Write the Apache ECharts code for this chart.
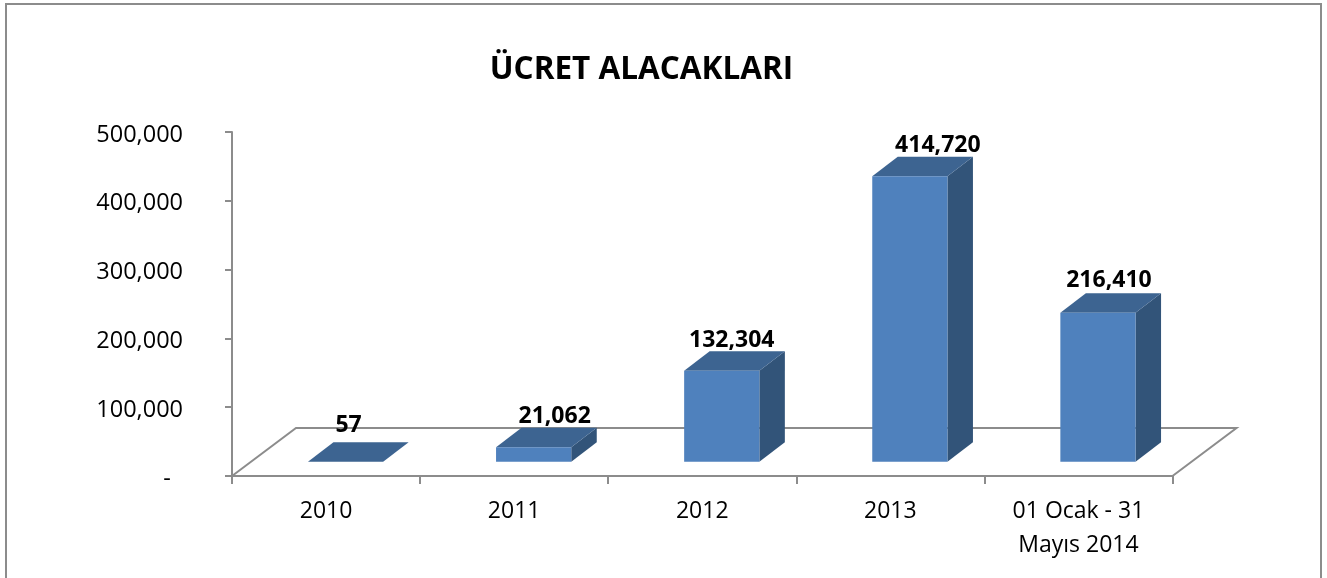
<!DOCTYPE html>
<html>
<head>
<meta charset="utf-8">
<style>
  html, body { margin: 0; padding: 0; background: #fff; }
  #main { width: 1327px; height: 578px; }
</style>
</head>
<body>
<div id="main"></div>
<script src="https://cdn.jsdelivr.net/npm/echarts@6/dist/echarts.min.js"></script>
<script>
var titleText = "ÜCRET ALACAKLARI";
var categories = ["2010", "2011", "2012", "2013", "01 Ocak - 31\nMayıs 2014"];
var values = [57, 21062, 132304, 414720, 216410];
var yTicks = [0, 100000, 200000, 300000, 400000, 500000];

// label nudges, the labels in the original were dragged by hand
var labelDx = [3, 21, 10, 28, 11];
var labelDy = [-36, -31, -30, -31, -32];

var fontName = '"Open Sans", sans-serif';
var axisColor = "#8c8c8c";
var depthX = 25.5, depthY = 19.5;   // 3d look
var floorX = 64, floorY = 48;

function fmt(v) {
  return String(v).replace(/\B(?=(\d{3})+$)/g, ",");
}

function renderFloor(params, api) {
  var c = params.coordSys;
  var left = c.x, right = c.x + c.width, bottom = c.y + c.height;
  return {
    type: "polyline",
    silent: true,
    shape: {
      points: [
        [left, bottom],
        [left + floorX, bottom - floorY],
        [right + floorX, bottom - floorY],
        [right, bottom]
      ]
    },
    style: { fill: null, stroke: axisColor, lineWidth: 2 }
  };
}

function renderBar(params, api) {
  var i = api.value(0), v = api.value(1);
  var w = 75.2;
  var base = api.coord([i, 0]);
  var top = api.coord([i, v]);
  var x0 = base[0] - w / 2 + 19.5;
  var x1 = x0 + w;
  var y0 = base[1] - 14.3;
  var y1 = top[1] - 14.3;
  return {
    type: "group",
    children: [
      {
        type: "polygon",
        shape: { points: [[x1, y0], [x1 + depthX, y0 - depthY], [x1 + depthX, y1 - depthY], [x1, y1]] },
        style: { fill: "#325479" }
      },
      {
        type: "polygon",
        shape: { points: [[x0, y1], [x0 + depthX, y1 - depthY], [x1 + depthX, y1 - depthY], [x1, y1]] },
        style: { fill: "#3d6491" }
      },
      {
        type: "rect",
        shape: { x: x0, y: y1, width: w, height: y0 - y1 },
        style: { fill: "#4f81bd" }
      },
      {
        type: "text",
        style: {
          x: x0 + w / 2 + labelDx[i],
          y: y1 + labelDy[i],
          text: fmt(v),
          fill: "#000",
          font: "bold 23px " + fontName,
          align: "center",
          verticalAlign: "middle"
        }
      }
    ]
  };
}

var chart = echarts.init(document.getElementById("main"));
chart.setOption({
  animation: false,
  backgroundColor: "#fff",
  title: {
    text: titleText,
    left: 636.5,
    top: 49,
    textAlign: "center",
    textStyle: { fontFamily: fontName, fontSize: 31.5, fontWeight: "bold", color: "#000" }
  },
  graphic: [
    {
      type: "rect",
      silent: true,
      shape: { x: 6, y: 4, width: 1315, height: 600 },
      style: { fill: null, stroke: axisColor, lineWidth: 2 }
    }
  ],
  grid: { left: 232, right: 154.5, top: 132, height: 344 },
  xAxis: {
    type: "category",
    data: categories,
    axisLine: { lineStyle: { color: axisColor, width: 2 } },
    axisTick: { show: true, alignWithLabel: false, length: 8, lineStyle: { color: axisColor, width: 2 } },
    axisLabel: { color: "#000", fontFamily: fontName, fontSize: 23, margin: 18, lineHeight: 34 }
  },
  yAxis: {
    type: "value",
    min: 0,
    max: yTicks[yTicks.length - 1],
    interval: 100000,
    splitLine: { show: false },
    axisLine: { show: true, lineStyle: { color: axisColor, width: 2 } },
    axisTick: { show: true, length: 7, lineStyle: { color: axisColor, width: 2 } },
    axisLabel: {
      color: "#000",
      fontFamily: fontName,
      fontSize: 23.5,
      margin: 49,
      verticalAlign: "top",
      lineHeight: 6,
      formatter: function (v) {
        return v === 0 ? "-\u00a0\u00a0" : fmt(v);
      }
    }
  },
  series: [
    { type: "custom", data: [[0]], renderItem: renderFloor, silent: true, z: 1 },
    {
      type: "custom",
      data: values.map(function (v, i) { return [i, v]; }),
      encode: { x: 0, y: 1 },
      renderItem: renderBar,
      z: 2
    }
  ]
});
</script>
</body>
</html>
